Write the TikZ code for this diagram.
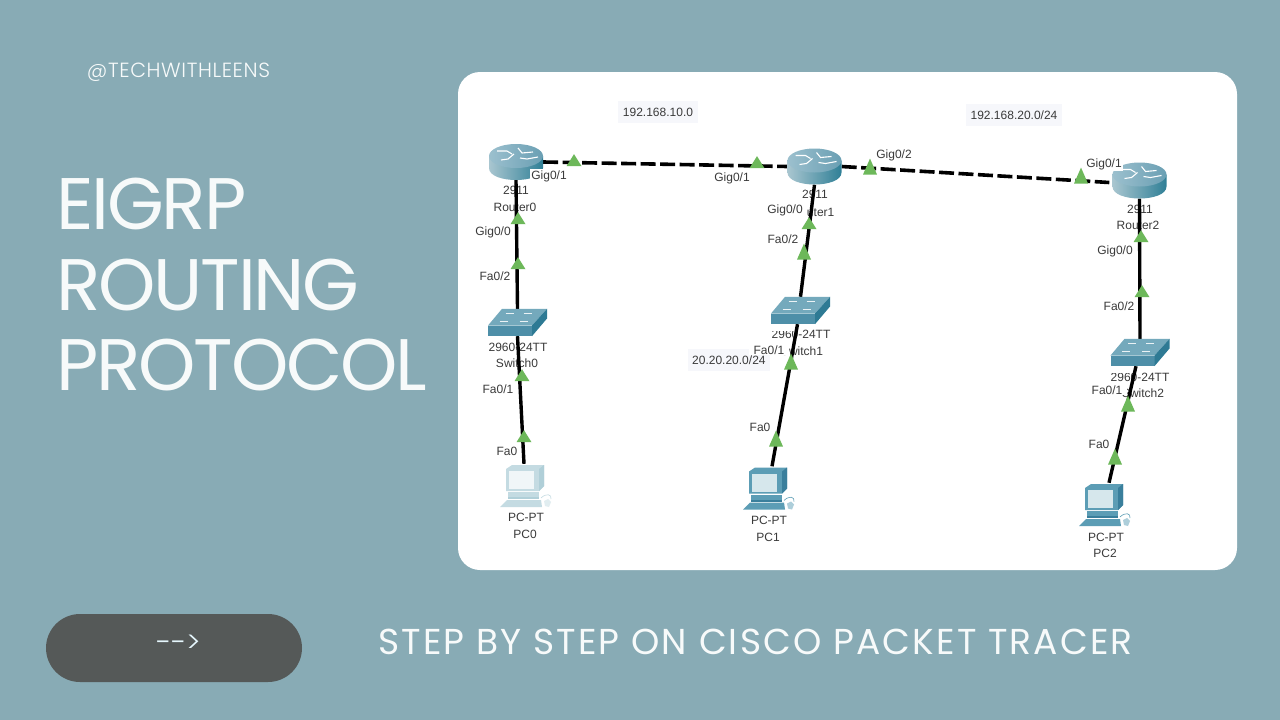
\documentclass[tikz,border=0pt]{standalone}
\usepackage{fontspec}
\setmainfont{Liberation Sans}
\newfontfamily\headfont{Poppins}[LetterSpace=-3]
\newfontfamily\subfont{Poppins}[LetterSpace=6]
\newfontfamily\handlefont{Poppins}[UprightFont=* Light,LetterSpace=3]
\newfontfamily\arrowfont{Poppins}[UprightFont=* Light]
\usetikzlibrary{shapes.geometric}
\definecolor{bgc}{HTML}{88ABB5}
\definecolor{pill}{HTML}{555958}
\definecolor{lbl}{HTML}{3A3A3A}
\definecolor{tag}{HTML}{F6F7FB}
\definecolor{tri}{HTML}{6DB85A}
\definecolor{headc}{HTML}{F7FAFA}
\definecolor{rtop}{HTML}{9CC0CE}
\definecolor{rtopr}{HTML}{6A9FB3}
\definecolor{rbl}{HTML}{A9C6D0}
\definecolor{rbm}{HTML}{E4F0F2}
\definecolor{rbr}{HTML}{2F7F96}
\definecolor{stop}{HTML}{74A9BC}
\definecolor{sfront}{HTML}{4E8FA8}
\definecolor{sside}{HTML}{2E7A94}
\definecolor{pcA}{HTML}{5C9DB5}
\definecolor{pcB}{HTML}{3A7F9C}
\definecolor{pcC}{HTML}{C4DBE2}
\definecolor{pcD}{HTML}{B0CFD8}
\tikzset{
  x=1pt,y=-1pt,
  headline/.style={font=\headfont\fontsize{73}{73}\selectfont,text=headc,anchor=base west,inner sep=0},
  subline/.style={font=\subfont\fontsize{36}{36}\selectfont,text=headc,inner sep=0},
  devtext/.style={font=\fontsize{12}{12}\selectfont,text=lbl,inner sep=0},
  portlabel/.style={font=\fontsize{12}{12}\selectfont,text=lbl,inner sep=1pt,fill=white},
  nettag/.style={font=\fontsize{12}{12}\selectfont,text=lbl,fill=tag,inner ysep=7pt,inner xsep=5pt},
  routerbox/.style={minimum width=54pt,minimum height=36pt,inner sep=0},
  switchbox/.style={minimum width=59pt,minimum height=27pt,inner sep=0},
  pcbox/.style={minimum width=52pt,minimum height=44pt,inner sep=0},
  serial/.style={line width=3.6pt,dash pattern=on 15pt off 4.5pt},
  copper/.style={line width=3.4pt},
  linktri/.style={isosceles triangle,isosceles triangle stretches,shape border rotate=90,fill=tri,inner sep=0},
  slimtri/.style={linktri,minimum height=12pt,minimum width=15pt},
  widetri/.style={linktri,minimum height=16pt,minimum width=14pt},
  router/.pic={
    \path[left color=rbl,middle color=rbm,right color=rbr]
      (-27,-6) -- (-27,6) .. controls (-27,22) and (27,22) .. (27,6) -- (27,-6) -- cycle;
    \path[left color=rtop,right color=rtopr]
      (0,-6) ellipse[x radius=27pt,y radius=12pt];
    \draw[white,line width=1.1pt] (-19,-11) -- (-9,-11) -- (-4,-8) (-15,-2) -- (-8,-3) -- (-2,-8)
      (2,-14) -- (6,-9) -- (17,-10) (4,-4) -- (11,-3) -- (22,-5);
  },
  switch/.pic={
    \fill[stop] (-15.5,-13.65) -- (29.5,-13.65) -- (14.5,3) -- (-29.5,3) -- cycle;
    \fill[sfront] (-29.5,3) -- (14.5,3) -- (14.5,13.65) -- (-29.5,13.65) -- cycle;
    \fill[sside] (14.5,3) -- (29.5,-13.65) -- (29.5,-4) -- (14.5,13.65) -- cycle;
    \draw[white!85!stop,line width=1pt] (-12,-9) -- (-4,-9) (6,-9) -- (14,-9) (-18,-1) -- (-10,-1) (2,-1) -- (10,-1);
  },
  pics/pcicon/.style n args={2}{code={
    \fill[#1] (-20,-17) -- (-14,-21) -- (18,-21) -- (18,0) -- (13,5) -- (-20,5) -- cycle;
    \fill[#2] (13,-17) -- (18,-21) -- (18,0) -- (13,5) -- cycle;
    \fill[#1!25!white] (-17,-15) rectangle (8,3);
    \fill[#1] (-18,6) rectangle (13,11);
    \fill[#2] (-18,11) rectangle (13,13);
    \fill[#1] (-19,14) -- (15,14) -- (16,21) -- (-26,21) -- cycle;
    \fill[#1!50!white] (19,20) -- (18,15) -- (22,13) -- (25,16) -- (23,21) -- cycle;
    \draw[#1,line width=.6pt] (15,12) .. controls (20,7) and (26,8) .. (25,13);
  }}
}
\begin{document}
\begin{tikzpicture}
\useasboundingbox (0,0) rectangle (1280,720);
\fill[bgc] (0,0) rectangle (1280,720);
% left side
\node[font=\handlefont\fontsize{20.5}{20.5}\selectfont,text=headc,inner sep=0] (handle) at (178.5,72) {@TECHWITHLEENS};
\node[headline] (t1) at (56,229.5) {EIGRP};
\node[headline] (t2) at (56,310.5) {ROUTING};
\node[headline] (t3) at (56,390) {PROTOCOL};
\node[fill=pill,rounded corners=34pt,minimum width=256pt,minimum height=68pt,inner sep=0] (pillbox) at (174,648) {};
\node[font=\arrowfont\fontsize{29}{29}\selectfont,text=white!90!cyan,inner sep=0] (arrowtext) at (178.5,644) {{-}{-}{>}};
\node[subline] (sub) at (755.5,642) {STEP BY STEP ON CISCO PACKET TRACER};
% card
\fill[white,rounded corners=22pt] (458,72) rectangle (1237,570);
% device placeholders
\node[routerbox] (R0) at (516,162) {};
\node[routerbox] (R1) at (814.5,166.5) {};
\node[routerbox] (R2) at (1139.5,180.5) {};
\node[switchbox] (S0) at (517.5,322.5) {};
\node[switchbox] (S1) at (800.5,310.5) {};
\node[switchbox] (S2) at (1140,352.5) {};
\node[pcbox] (P0) at (526,486) {};
\node[pcbox] (P1) at (769,488.5) {};
\node[pcbox] (P2) at (1105,505) {};
% device captions
\node[devtext] (c0a) at (516,190) {2911};
\node[devtext] (c0b) at (515,207) {Router0};
\node[devtext] (c1a) at (815,194) {2911};
\node[devtext] (c1b) at (813,212) {Router1};
\node[devtext] (c2a) at (1140,209) {2911};
\node[devtext] (c2b) at (1138,225) {Router2};
\node[devtext] (c3a) at (518,347) {2960-24TT};
\node[devtext] (c3b) at (517,363) {Switch0};
\node[devtext] (c4a) at (801,334) {2960-24TT};
\node[devtext] (c4b) at (802,351) {Switch1};
\node[devtext] (c5a) at (1140,377) {2960-24TT};
\node[devtext] (c5b) at (1143,393) {Switch2};
\node[devtext] (c6a) at (526,517) {PC-PT};
\node[devtext] (c6b) at (525,534) {PC0};
\node[devtext] (c7a) at (769,520) {PC-PT};
\node[devtext] (c7b) at (768,537) {PC1};
\node[devtext] (c8a) at (1106,537) {PC-PT};
\node[devtext] (c8b) at (1105,553) {PC2};
% the tops of three captions are masked in the reference
\fill[white] (770,325) rectangle (796,331);
\fill[white] (1111,367) rectangle (1135,373);
\fill[white] (806,185) rectangle (817,190);
% network tags
\node[nettag] (n1) at (658,112) {192.168.10.0};
\node[nettag] (n2) at (1014,115) {192.168.20.0/24};
\node[nettag,anchor=west,inner xsep=4pt] (n3) at (688,360) {20.20.20.0/24};
% port labels
\node[portlabel] (p2) at (732,178) {Gig0/1};
\node[portlabel] (p3) at (894,155) {Gig0/2};
\node[portlabel] (p5) at (493,232) {Gig0/0};
\node[portlabel] (p6) at (495,276) {Fa0/2};
\node[portlabel,inner xsep=4pt] (p7) at (785,210) {Gig0/0};
\node[portlabel] (p8) at (783,239) {Fa0/2};
\node[portlabel] (p9) at (1115,251) {Gig0/0};
\node[portlabel] (p10) at (1119,306) {Fa0/2};
\node[portlabel] (p11) at (498,389) {Fa0/1};
\node[portlabel] (p12) at (507,451) {Fa0};
\node[portlabel,inner xsep=5pt] (p13) at (769,350) {Fa0/1};
\node[portlabel] (p14) at (760,427) {Fa0};
\node[portlabel,inner xsep=5pt] (p15) at (1107,390) {Fa0/1};
\node[portlabel] (p16) at (1099,444) {Fa0};
% links
\draw[serial] (R0.east) -- (R1.west);
\draw[serial] (R1.east) -- ([xshift=-3pt,yshift=-2pt]R2.west);
\draw[copper] (R0.south) -- (S0.north);
\draw[copper] (S0.south) -- ([xshift=-2pt]P0.north);
\draw[copper] (R1.south) -- (S1.north);
\draw[copper] ([xshift=-3pt]S1.south) -- ([xshift=3pt]P1.north);
\draw[copper] (R2.south) -- (S2.north);
\draw[copper] ([xshift=-4pt]S2.south) -- ([xshift=4pt]P2.north);
% link state triangles
\node[slimtri] (t01) at (574,162) {};
\node[slimtri] (t02) at (757,164) {};
\node[widetri] (t03) at (870,170) {};
\node[widetri] (t04) at (1081,179) {};
\node[slimtri] (t05) at (518,220) {};
\node[slimtri] (t06) at (518,265) {};
\node[slimtri] (t07) at (522,377) {};
\node[slimtri] (t08) at (524,438) {};
\node[slimtri] (t09) at (809,225) {};
\node[widetri] (t10) at (804,255) {};
\node[widetri] (t11) at (791,365) {};
\node[widetri] (t12) at (776,442) {};
\node[slimtri] (t13) at (1141,238) {};
\node[slimtri] (t14) at (1142,293) {};
\node[widetri] (t15) at (1128,407) {};
\node[widetri] (t16) at (1115,460) {};
% icons
\pic at (R0) {router};
\pic at (R1) {router};
\pic at (R2) {router};
\pic at (S0) {switch};
\pic at (S1) {switch};
\pic at (S2) {switch};
\pic at (P0) {pcicon={pcC}{pcD}};
\pic at (P1) {pcicon={pcA}{pcB}};
\pic at (P2) {pcicon={pcA}{pcB}};
% labels that lie over the router icons
\node[portlabel] (p1) at (549,176) {Gig0/1};
\node[portlabel] (p4) at (1104,164) {Gig0/1};
\end{tikzpicture}
\end{document}
